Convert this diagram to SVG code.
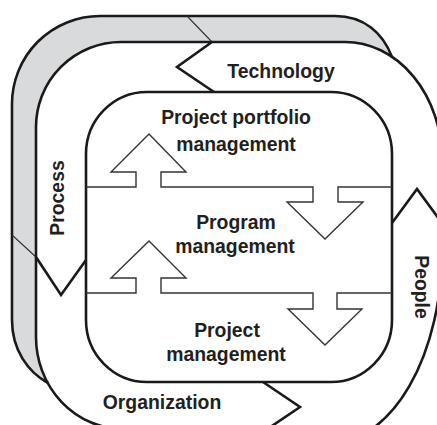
<svg xmlns="http://www.w3.org/2000/svg" width="437" height="425" viewBox="0 0 437 425">
<style>
.band{fill:none;stroke:#1a1a1a;stroke-width:2.6;stroke-linejoin:miter}
.thin{fill:none;stroke:#333;stroke-width:1.1}
.div{fill:none;stroke:#333;stroke-width:1.4;stroke-linejoin:miter}
.lbl{font-family:"Liberation Sans",Arial,Helvetica,sans-serif;font-weight:bold;font-size:19.4px;fill:#231f20;text-anchor:middle}
</style>
<rect width="437" height="425" fill="#fff"/>
<g id="shadow">
<path d="M48,383 C28,372 12,350 12,320 V104 A88,88 0 0 1 100,16 H335 C364,16 383,33 392,57 A97,118 0 0 0 345,42 H121 A85,85 0 0 0 36,127 V337 A87.5,92 0 0 0 48,383 Z" fill="#d9dadb" stroke="none"/>
<path class="band" d="M48,383 C28,372 12,350 12,320 V104 A88,88 0 0 1 100,16 H335 C364,16 383,33 392,57"/>
<path class="thin" d="M187,16 L212,42 M12,235 L36,257"/>
</g>
<g id="technology">
<path class="band" d="M214,92 L177,67 L212,42 H345 A97,118 0 0 1 442,160 V223"/>
<text class="lbl" x="281" y="78">Technology</text>
</g>
<g id="process">
<path class="band" d="M86,260 L61,295 L36,257 V127 A85,85 0 0 1 121,42 H212"/>
<text class="lbl" transform="translate(64,198) rotate(-90)">Process</text>
</g>
<g id="organization">
<path class="band" d="M263,382 L300,407 L263,432 L123.5,429 A87.5,92 0 0 1 36,337 V257"/>
<text class="lbl" x="162" y="409">Organization</text>
</g>
<g id="people">
<path class="band" d="M392,223 L417,189 L442,223 V250 A112,193 0 0 1 330,443 L263,432"/>
<text class="lbl" transform="translate(415,287) rotate(90)">People</text>
</g>
<g id="stack">
<rect class="band" x="86" y="92" width="306" height="290" rx="61" ry="62"/>
</g>
<g id="portfolio">
<text class="lbl" x="236" y="124">Project portfolio</text>
<text class="lbl" x="236" y="151">management</text>
</g>
<g id="program">
<text class="lbl" x="236" y="229">Program</text>
<text class="lbl" x="235" y="253">management</text>
</g>
<g id="project">
<text class="lbl" x="227" y="337">Project</text>
<text class="lbl" x="226" y="361">management</text>
</g>
<g id="connectors">
<path class="div" d="M86,187 H136 V172 H111 L149,134 L186,172 H161 V187 H313 V202 H287 L325,239 L363,202 H338 V187 H392"/>
<path class="div" d="M86,293 H136 V278 H111 L149,241 L186,278 H161 V293 H313 V309 H288 L325,345 L362,309 H337 V293 H392"/>
</g>
</svg>
